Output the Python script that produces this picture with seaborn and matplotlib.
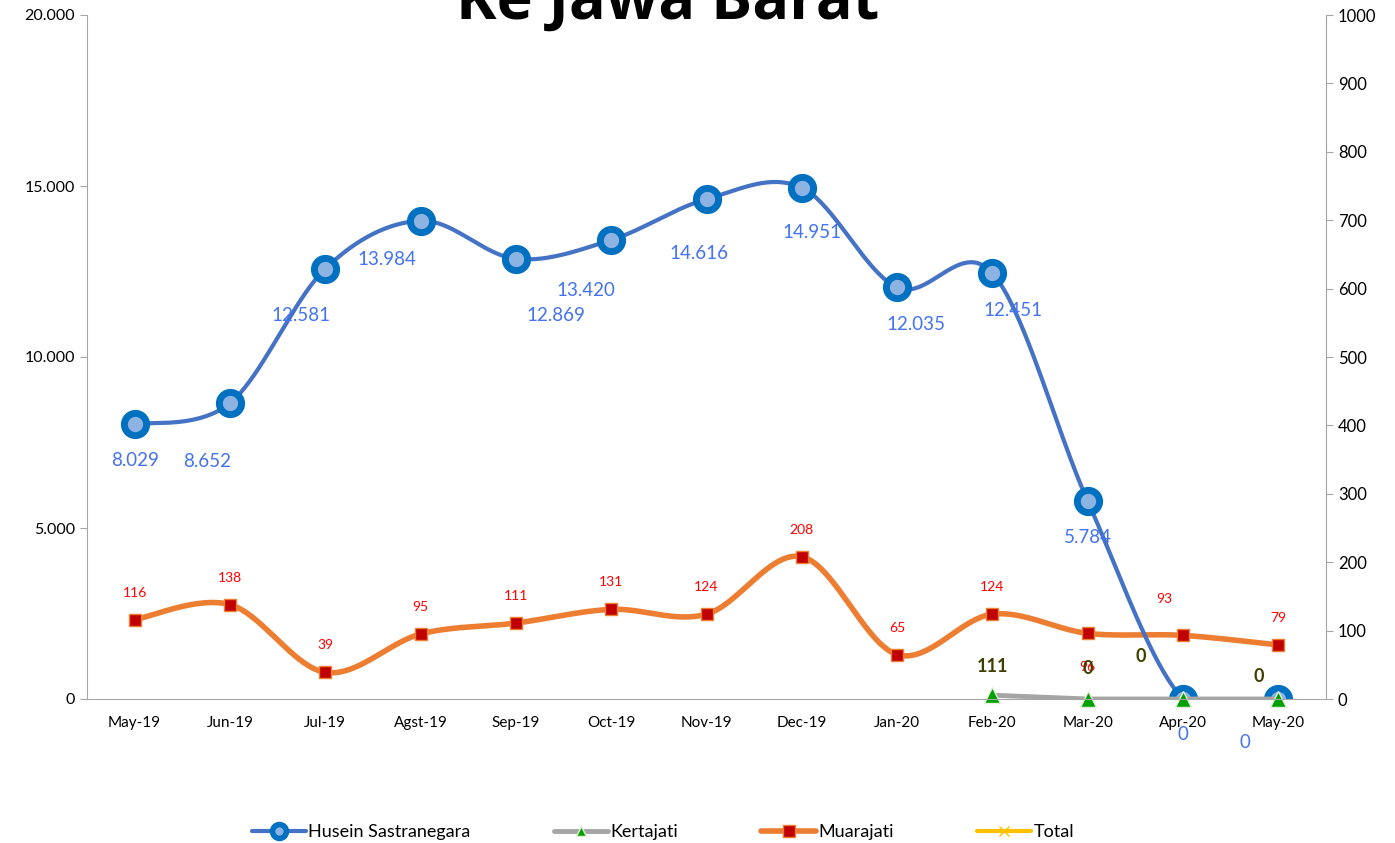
import numpy as np
import matplotlib
matplotlib.use("Agg")
import matplotlib.pyplot as plt
import seaborn as sns
from matplotlib.lines import Line2D
from matplotlib.ticker import FuncFormatter, MultipleLocator

# data
months = ["May-19", "Jun-19", "Jul-19", "Agst-19", "Sep-19", "Oct-19", "Nov-19",
          "Dec-19", "Jan-20", "Feb-20", "Mar-20", "Apr-20", "May-20"]
husein = [8029, 8652, 12581, 13984, 12869, 13420, 14616, 14951, 12035, 12451, 5784, 0, 0]
kertajati = [np.nan] * 9 + [111, 0, 0, 0]
muarajati = [116, 138, 39, 95, 111, 131, 124, 208, 65, 124, 96, 93, 79]

# label offsets in pixels (dx, dy) like excel put them
husein_off = [(0, -36), (-23, -58), (-24, -47), (-34, -39), (40, -57), (-25, -50), (-8, -54),
              (10, -45), (19, -37), (21, -37), (0, -36), (0, -36), (-33, -44)]
muara_off = [(0, 27), (0, 27), (0, 27), (0, 27), (0, 27), (0, 27), (0, 27),
             (0, 27), (0, 27), (0, 27), (0, -34), (-19, 36), (0, 27)]
kerta_off = [(0, 29), (0, 30), (-42, 42), (-20, 22)]

FONT = ["Lato", "DejaVu Sans"]


def smooth(xv, yv, n=40):
    # bezier through the points, catmull-rom style tangents (excel "smoothed line")
    xv = np.asarray(xv, float)
    yv = np.asarray(yv, float)
    xs, ys = [], []
    m = len(xv)
    for i in range(m - 1):
        p0 = i - 1 if i > 0 else i
        p3 = i + 2 if i + 2 < m else i + 1
        P0 = np.array([xv[p0], yv[p0]])
        P1 = np.array([xv[i], yv[i]])
        P2 = np.array([xv[i + 1], yv[i + 1]])
        P3 = np.array([xv[p3], yv[p3]])
        c1 = P1 + (P2 - P0) / 6
        c2 = P2 - (P3 - P1) / 6
        t = np.linspace(0, 1, n)[:, None]
        b = (1 - t) ** 3 * P1 + 3 * (1 - t) ** 2 * t * c1 + 3 * (1 - t) * t ** 2 * c2 + t ** 3 * P2
        xs.extend(b[:, 0])
        ys.extend(b[:, 1])
    return np.array(xs), np.array(ys)


def dots(v):
    return f"{int(v):,}".replace(",", ".")


sns.set_style("white")
plt.rcParams["font.family"] = FONT
plt.rcParams["text.color"] = "black"

fig = plt.figure(figsize=(13.95, 8.43), dpi=100)
ax = fig.add_axes([87 / 1395, 1 - 699 / 843, 1239 / 1395, 684 / 843])
ax2 = ax.twinx()
ax.set_zorder(ax2.get_zorder() + 1)
ax.patch.set_visible(False)

x = np.arange(len(months))

# Muarajati on the secondary axis
sx, sy = smooth(x, muarajati)
sns.lineplot(x=sx, y=sy, ax=ax2, color="#ED7D31", linewidth=4, sort=False, estimator=None)
ax2.plot(x, muarajati, linestyle="none", marker="s", markersize=8,
         markerfacecolor="#C00000", markeredgecolor="#ED7D31", markeredgewidth=1)
for i, v in enumerate(muarajati):
    dx, dy = muara_off[i]
    ax2.annotate(str(v), (x[i], v), xytext=(dx * 0.72, dy * 0.72), textcoords="offset points",
                 ha="center", va="center", color="#FF0000", fontsize=10)

# Husein
hx, hy = smooth(x, husein)
sns.lineplot(x=hx, y=hy, ax=ax, color="#4472C4", linewidth=3, sort=False, estimator=None)
ax.plot(x, husein, linestyle="none", marker="o", markersize=16,
        markerfacecolor="#8DB3E2", markeredgecolor="#0070C0", markeredgewidth=5)
for i, v in enumerate(husein):
    dx, dy = husein_off[i]
    ax.annotate(dots(v), (x[i], v), xytext=(dx * 0.72, dy * 0.72), textcoords="offset points",
                ha="center", va="center", color="#4472F0", fontsize=13.5, annotation_clip=False)

# Kertajati
kx = x[9:]
kv = kertajati[9:]
sns.lineplot(x=kx, y=kv, ax=ax, color="#A5A5A5", linewidth=3.5, estimator=None)
ax.plot(kx, kv, linestyle="none", marker="^", markersize=11,
        markerfacecolor="#00A000", markeredgecolor="#E2F0D9", markeredgewidth=1, clip_on=False)
for j, v in enumerate(kv):
    dx, dy = kerta_off[j]
    ax.annotate(str(int(v)), (kx[j], v), xytext=(dx * 0.72, dy * 0.72), textcoords="offset points",
                ha="center", va="center", color="#3F3F00", fontsize=13, fontweight="bold")

# axes
ax.set_xlim(-0.5, len(months) - 0.5)
ax.set_ylim(0, 20000)
ax2.set_ylim(0, 1000)
ax.yaxis.set_major_locator(MultipleLocator(5000))
ax.yaxis.set_major_formatter(FuncFormatter(lambda v, p: dots(v)))
ax2.yaxis.set_major_locator(MultipleLocator(100))
ax.set_xticks(x)
ax.set_xticklabels(months)
ax.set_xticks(np.arange(-0.5, len(months), 1), minor=True)
ax.tick_params(axis="x", which="major", length=0, pad=12, labelsize=11, labelcolor="black")
ax.tick_params(axis="x", which="minor", length=5, color="#A6A6A6")
ax.tick_params(axis="y", length=5, color="#A6A6A6", labelsize=11.5, labelcolor="black")
ax2.tick_params(axis="y", length=5, color="#A6A6A6", labelsize=12, labelcolor="black")
for a in (ax, ax2):
    a.spines["top"].set_visible(False)
    for s in ("left", "right", "bottom"):
        a.spines[s].set_color("#A6A6A6")
ax.spines["right"].set_visible(False)
ax2.spines["left"].set_visible(False)
ax2.spines["bottom"].set_visible(False)
ax.set_xlabel("")
ax.set_ylabel("")
ax2.set_ylabel("")

fig.text(668 / 1395, 1 - 19 / 843, "Ke Jawa Barat", ha="center", va="baseline", color="black",
         fontsize=44, fontweight="bold", family=["Open Sans", "DejaVu Sans"])

handles = [
    Line2D([], [], color="#4472C4", linewidth=3, marker="o", markersize=10,
           markerfacecolor="#8DB3E2", markeredgecolor="#0070C0", markeredgewidth=4),
    Line2D([], [], color="#A5A5A5", linewidth=3.5, marker="^", markersize=7,
           markerfacecolor="#00A000", markeredgecolor="#E2F0D9"),
    Line2D([], [], color="#ED7D31", linewidth=4, marker="s", markersize=8,
           markerfacecolor="#C00000", markeredgecolor="#ED7D31"),
    Line2D([], [], color="#FFC000", linewidth=3, marker="x", markersize=7,
           markeredgecolor="#FFC000"),
]
labels = ["Husein Sastranegara", "Kertajati", "Muarajati", "Total"]
fig.legend(handles, labels, loc="center", bbox_to_anchor=(663 / 1395, 1 - 832 / 843),
           ncol=4, frameon=False, fontsize=13, handlelength=3.0, handletextpad=0.15,
           columnspacing=4.6)

fig.savefig("out.png", dpi=100)
